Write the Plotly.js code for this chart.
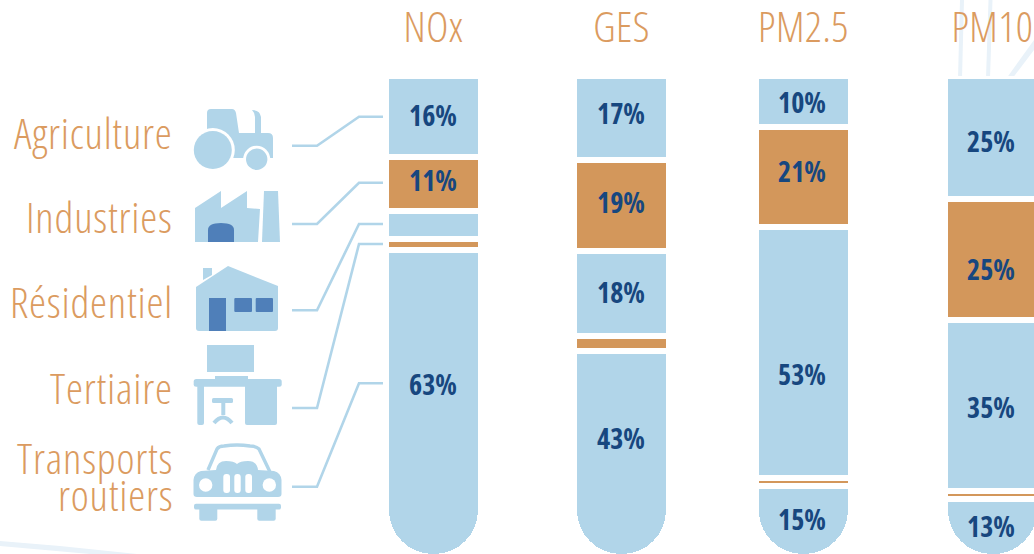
<!DOCTYPE html>
<html>
<head>
<meta charset="utf-8">
<script src="https://cdn.plot.ly/plotly-3.0.1.min.js"></script>
<style>
html,body{margin:0;padding:0;background:#fff;overflow:hidden}
#chart{width:1034px;height:554px}
text{font-stretch:75% !important}
text[style*="font-size: 42px"]{letter-spacing:0.5px}
text[style*="font-size: 43px"]{letter-spacing:0.8px}
</style>
</head>
<body>
<div id="chart"></div>
<script>
// ---- data ----
const pollutants = ['NOx', 'GES', 'PM2.5', 'PM10'];
const sectors = ['Agriculture', 'Industries', 'Résidentiel', 'Tertiaire', 'Transports routiers'];
// Segment sizes, in percent of column height
const agriculture = [16.8, 17.5, 10.6, 25.6];
const industries  = [11.2, 18.9, 20.8, 25.2];
const residentiel = [5.9, 17.7, 52.2, 35.5];
const tertiaire   = [2.2, 3.1, 1.6, 1.6];
const transports  = [63.9, 42.8, 14.8, 12.1];
// Printed labels
const labelsAgriculture = ['16%', '17%', '10%', '25%'];
const labelsIndustries  = ['11%', '19%', '21%', '25%'];
const labelsResidentiel = ['', '18%', '53%', '35%'];
const labelsTransports  = ['63%', '43%', '15%', '13%'];

// ---- layout helpers ----
const W = 1034, H = 554, TOP = 76, PX_PER_PCT = 4.81, PX_PER_COL = 186, FIRST_COL = 433.5;
const columnPos = [0, 1.011, 1.989, 3.005];
const labelYAgriculture = [8.3, 7.9, 5.6, 13.7];
const labelYIndustries  = [21.8, 26.4, 20.0, 40.3];
const labelYResidentiel = [0, 45.1, 62.2, 69.0];
const labelYTransports  = [64.2, 75.5, 92.3, 93.8];

const BLUE = '#b1d5e9', ORANGE = '#d3975b', TXT = '#db9b60', NAVY = '#17477f', DOOR = '#4f7fb9', FAINT = '#e9f2f9';
const FONT = '"Open Sans", sans-serif';

const px = x => x / W, py = y => 1 - y / H;
function conv(d) {
  let i = 0;
  return d.replace(/-?\d+(\.\d+)?/g, m => (i++ % 2 === 0 ? px(+m) : py(+m)).toFixed(5));
}
const shp = (d, fill, extra) => Object.assign({type: 'path', xref: 'paper', yref: 'paper', path: conv(d), fillcolor: fill, line: {width: 0}, layer: 'above'}, extra || {});
const circ = (cx, cy, r, fill) => ({type: 'circle', xref: 'paper', yref: 'paper', x0: px(cx - r), x1: px(cx + r), y0: py(cy - r), y1: py(cy + r), fillcolor: fill, line: {width: 0}, layer: 'above'});
function rr(x0, y0, x1, y1, r) {
  return `M${x0 + r} ${y0} L${x1 - r} ${y0} Q${x1} ${y0} ${x1} ${y0 + r} L${x1} ${y1 - r} Q${x1} ${y1} ${x1 - r} ${y1} L${x0 + r} ${y1} Q${x0} ${y1} ${x0} ${y1 - r} L${x0} ${y0 + r} Q${x0} ${y0} ${x0 + r} ${y0} Z`;
}
const strokePath = (d, color, w) => ({type: 'path', xref: 'paper', yref: 'paper', path: conv(d), line: {color, width: w}, layer: 'above'});

const shapes = [
  // faint background strokes
  shp('M960 0 L964 0 L962 79 L958 79 Z', FAINT, {layer: 'below'}),
  shp('M988.5 0 L992.5 0 L990 79 L986 79 Z', FAINT, {layer: 'below'}),
  shp('M1034 40 L1034 50 L1012 79 L1006 79 Z', FAINT, {layer: 'below'}),
  shp('M0 541 L60 546 L137 554 L90 554 L0 546 Z', FAINT, {layer: 'below'}),
  // leader lines
  strokePath('M292 145.7 L317 145.7 L359 116.7 L383 116.7', BLUE, 2.6),
  strokePath('M292 224 L317 224 L359 182.7 L383 182.7', BLUE, 2.6),
  strokePath('M292 310.3 L317 310.3 L359 224 L383 224', BLUE, 2.6),
  strokePath('M292 408 L317 408 L359 244 L383 244', BLUE, 2.6),
  strokePath('M292 486.7 L317 486.7 L359 383.3 L383 383.3', BLUE, 2.6),
  // tractor
  shp('M207 135 L207 113 Q207 109 211 109 L232 109 Q235 109 236 113 L239 133 L255 133 L255 117 Q255 113 252 110 Q260 110 261 117 L261 133 L268 133 Q273 133 273 138 L273 158 L232 158 L207 158 Z', BLUE),
  circ(212.8, 150, 22, '#ffffff'), circ(212.8, 150, 19, BLUE),
  circ(256.7, 159.3, 13.5, '#ffffff'), circ(256.7, 159.3, 10.7, BLUE),
  // factory
  shp('M195 208 L221 191 L221 208 L247 191 L247 208 L260 209 L258 242 L195 242 Z', BLUE),
  shp('M264 191 L278 191 L280 242 L262 242 Z', BLUE),
  shp('M208 242 L208 230 Q208 223 221 223 Q234 223 234 230 L234 242 Z', DOOR),
  // house
  shp('M203 268 L212 268 L212 275 L203 280 Z', BLUE),
  shp('M196 287 L228 266 L278 286 L278 328 Q278 331 275 331 L199 331 Q196 331 196 328 Z', BLUE),
  shp('M209 298 L226 298 L226 331 L209 331 Z', DOOR),
  shp(rr(234.3, 298, 252, 312, 1), DOOR),
  shp(rr(255.7, 298, 273, 312, 1), DOOR),
  // desk
  shp('M207 345 L254 345 L254 372 L207 372 Z', BLUE),
  shp('M215 376 L248 376 L248 380 L215 380 Z', BLUE),
  shp(rr(193.7, 379, 281.7, 386.7, 2.5), BLUE),
  shp(rr(197.3, 384, 204, 425, 2), BLUE),
  shp(rr(245, 384, 277, 425, 2), BLUE),
  shp(rr(212, 398, 233, 403, 1.5), BLUE),
  shp('M221.3 402 L225.3 402 L225.3 415 L221.3 415 Z', BLUE),
  strokePath('M214 423 Q223 412 232 423', BLUE, 4),
  // car
  strokePath('M208 470 L217 449 Q219 446 224 446 Q237 444 250 446 Q256 446 259 449 L270 472', BLUE, 3.4),
  shp('M193.5 494 L193.5 480 Q194 473 201 471 L216 470 Q217 461 226 461 Q234 461 237 464 Q240 461 248 461 Q257 461 258 470 L274 471 Q281 473 281.5 480 L281.5 494 Q281.5 497 278 497 L197 497 Q193.5 497 193.5 494 Z', BLUE),
  circ(205.7, 485, 6.7, '#ffffff'), circ(269.3, 485, 6.7, '#ffffff'),
  shp(rr(223.3, 474, 230, 493, 3), '#ffffff'),
  shp(rr(234.3, 474, 240.7, 493, 3), '#ffffff'),
  shp(rr(245.3, 474, 252, 493, 3), '#ffffff'),
  shp(rr(194, 503.7, 281, 509.5, 2), BLUE),
  shp(rr(199.3, 507, 217.3, 520.7, 2), BLUE),
  shp(rr(257.3, 507, 275.7, 520.7, 2), BLUE)
];

// ---- traces ----
function seg(name, y, color) {
  return {type: 'bar', name, x: columnPos, y, width: 95 / PX_PER_COL,
    marker: {color, line: {color: '#ffffff', width: 6}, cornerradius: 47},
    hoverinfo: 'skip', showlegend: false};
}
const traces = [
  seg(sectors[0], agriculture, BLUE),
  seg(sectors[1], industries, ORANGE),
  seg(sectors[2], residentiel, BLUE),
  seg(sectors[3], tertiaire, ORANGE),
  seg(sectors[4], transports, BLUE)
];

// ---- annotations ----
const annotations = [];
[[labelsAgriculture, labelYAgriculture], [labelsIndustries, labelYIndustries],
 [labelsResidentiel, labelYResidentiel], [labelsTransports, labelYTransports]].forEach(([txt, ys]) => {
  txt.forEach((t, i) => {
    if (!t) return;
    annotations.push({xref: 'x', yref: 'y', x: columnPos[i], y: ys[i], xshift: -1, yshift: 1, text: t, showarrow: false,
      xanchor: 'center', yanchor: 'middle', font: {family: FONT, size: 28, weight: 700, color: NAVY}});
  });
});
const catLines = [['Agriculture', 134], ['Industries', 218], ['Résidentiel', 303], ['Tertiaire', 389], ['Transports', 459], ['routiers', 496]];
catLines.forEach(([t, y]) => annotations.push({xref: 'paper', yref: 'paper', x: px(175), y: py(y), yshift: 2, text: t, showarrow: false,
  xanchor: 'right', yanchor: 'middle', font: {family: FONT, size: 43, weight: 360, color: TXT}}));

const layout = {
  width: W, height: H, margin: {l: 0, r: 0, t: 0, b: 0, pad: 0},
  paper_bgcolor: '#ffffff', plot_bgcolor: 'rgba(0,0,0,0)', barmode: 'stack', bargap: 0,
  xaxis: {domain: [0, 1], range: [-FIRST_COL / PX_PER_COL, (W - FIRST_COL) / PX_PER_COL], side: 'top', tickmode: 'array',
    tickvals: columnPos, ticktext: pollutants, tickfont: {family: FONT, size: 42, weight: 340, color: TXT}, ticks: '',
    ticklabelstandoff: 25, showgrid: false, zeroline: false, showline: false, fixedrange: true, automargin: false},
  yaxis: {domain: [0, (H - TOP) / H], range: [(H - TOP) / PX_PER_PCT, 0], visible: false, showgrid: false, zeroline: false, fixedrange: true},
  shapes, annotations
};
Plotly.newPlot('chart', traces, layout, {displayModeBar: false, responsive: false});
</script>
</body>
</html>
